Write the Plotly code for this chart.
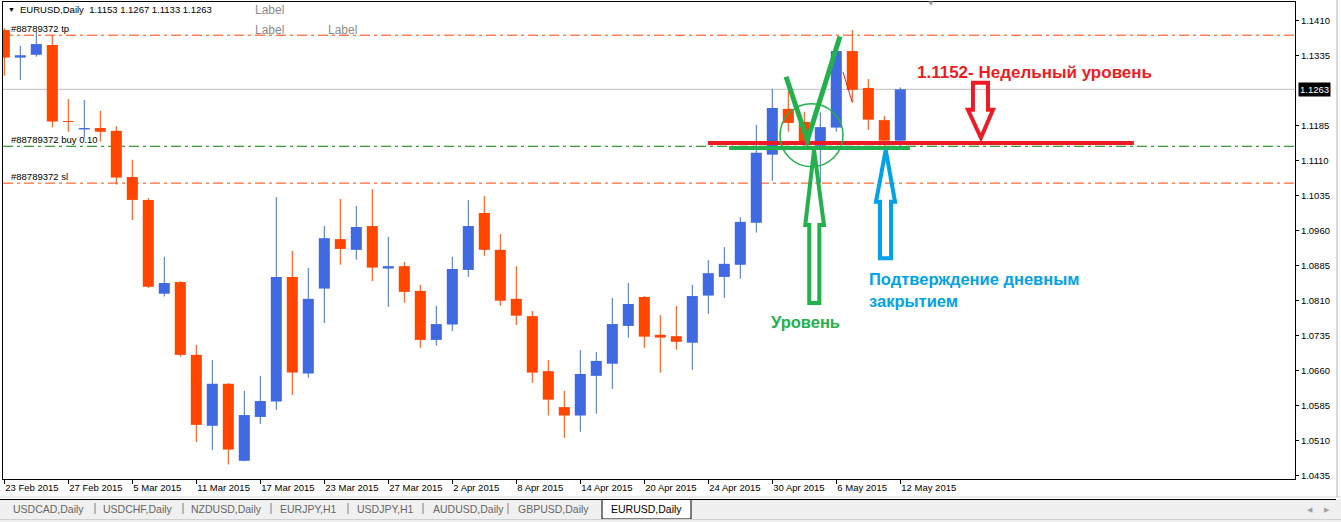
import plotly.graph_objects as go

# ---------------- data ----------------
symbol = "EURUSD,Daily"
opens = [1.1390, 1.1331, 1.1337, 1.1358, 1.1195, 1.1177, 1.1180, 1.1174, 1.1075, 1.1026,
         1.0825, 1.0850, 1.0694, 1.0542, 1.0632, 1.0467, 1.0561, 1.0594, 1.0861, 1.0654,
         1.0836, 1.0942, 1.0919, 1.0970, 1.0879, 1.0884, 1.0831, 1.0726, 1.0759, 1.0876,
         1.0998, 1.0919, 1.0814, 1.0777, 1.0659, 1.0582, 1.0564, 1.0649, 1.0675, 1.0756,
         1.0818, 1.0737, 1.0734, 1.0720, 1.0821, 1.0861, 1.0887, 1.0977, 1.1123, 1.1221,
         1.1193, 1.1142, 1.1181, 1.1345, 1.1266, 1.1197, 1.1153]
highs = [1.1394, 1.1356, 1.1386, 1.1379, 1.1242, 1.1240, 1.1217, 1.1184, 1.1112, 1.1030,
         1.0904, 1.0852, 1.0715, 1.0683, 1.0633, 1.0617, 1.0649, 1.1032, 1.0917, 1.0880,
         1.0970, 1.1028, 1.1013, 1.1049, 1.0947, 1.0893, 1.0844, 1.0799, 1.0904, 1.1026,
         1.1034, 1.0953, 1.0884, 1.0788, 1.0683, 1.0617, 1.0704, 1.0700, 1.0816, 1.0848,
         1.0820, 1.0779, 1.0799, 1.0844, 1.0897, 1.0925, 1.0989, 1.1187, 1.1264, 1.1261,
         1.1215, 1.1214, 1.1362, 1.1390, 1.1285, 1.1206, 1.1267]
lows = [1.1292, 1.1283, 1.1333, 1.1181, 1.1172, 1.1159, 1.1151, 1.1059, 1.0983, 1.0837,
        1.0819, 1.0690, 1.0507, 1.0490, 1.0459, 1.0466, 1.0546, 1.0576, 1.0608, 1.0645,
        1.0762, 1.0887, 1.0898, 1.0852, 1.0797, 1.0806, 1.0709, 1.0714, 1.0745, 1.0861,
        1.0906, 1.0799, 1.0758, 1.0634, 1.0564, 1.0516, 1.0529, 1.0568, 1.0621, 1.0731,
        1.0709, 1.0656, 1.0705, 1.0662, 1.0782, 1.0816, 1.0857, 1.0956, 1.1067, 1.1172,
        1.1142, 1.1062, 1.1172, 1.1234, 1.1176, 1.1140, 1.1133]
closes = [1.1331, 1.1336, 1.1360, 1.1194, 1.1193, 1.1180, 1.1172, 1.1074, 1.1026, 1.0840,
          1.0848, 1.0694, 1.0544, 1.0632, 1.0491, 1.0565, 1.0595, 1.0861, 1.0656, 1.0814,
          1.0944, 1.0921, 1.0968, 1.0881, 1.0884, 1.0829, 1.0726, 1.0760, 1.0878, 1.0970,
          1.0919, 1.0810, 1.0778, 1.0656, 1.0598, 1.0564, 1.0653, 1.0681, 1.0760, 1.0803,
          1.0733, 1.0731, 1.0722, 1.0820, 1.0869, 1.0889, 1.0979, 1.1127, 1.1223, 1.1191,
          1.1151, 1.1182, 1.1345, 1.1262, 1.1198, 1.1153, 1.1263]

date_tick_index = [0, 4, 8, 12, 16, 20, 24, 28, 32, 36, 40, 44, 48, 52, 56]
date_tick_labels = ["23 Feb 2015", "27 Feb 2015", "5 Mar 2015", "11 Mar 2015", "17 Mar 2015",
                    "23 Mar 2015", "27 Mar 2015", "2 Apr 2015", "8 Apr 2015", "14 Apr 2015",
                    "20 Apr 2015", "24 Apr 2015", "30 Apr 2015", "6 May 2015", "12 May 2015"]
price_ticks = [1.0435, 1.0510, 1.0585, 1.0660, 1.0735, 1.0810, 1.0885, 1.0960,
               1.1035, 1.1110, 1.1185, 1.1335, 1.1410]

order_id = "#88789372"
tp_price = 1.1379
buy_price = 1.1141
sl_price = 1.1062
weekly_level = 1.1148      # drawn red level line
daily_level = 1.1137       # drawn green level line

tabs = ["USDCAD,Daily", "USDCHF,Daily", "NZDUSD,Daily", "EURJPY,H1", "USDJPY,H1",
        "AUDUSD,Daily", "GBPUSD,Daily", "EURUSD,Daily"]

# ---------------- styling ----------------
BULL = "#4169E1"
BEAR = "#FF4500"
PAINT_RED = "#ED1C24"
PAINT_GREEN = "#22B14C"
PAINT_BLUE = "#00A2E8"
FONT = "Liberation Sans, Arial, sans-serif"
W, H = 1341, 522
ML, MR, MT, MB = 3, 46, 2, 43
PW, PH = W - ML - MR, H - MT - MB


def pxx(X):
    return (X - ML) / PW


def pxy(Y):
    return (H - MB - Y) / PH


n = len(opens)
idx = list(range(n))
last_close = closes[-1]

fig = go.Figure()

# wicks
for bull, col in [(True, BULL), (False, BEAR)]:
    xs, ys = [], []
    for i in idx:
        if (closes[i] >= opens[i]) == bull:
            xs += [i, i, None]
            ys += [lows[i], highs[i], None]
    fig.add_trace(go.Scatter(x=xs, y=ys, mode="lines", line=dict(color=col, width=1),
                             hoverinfo="skip", showlegend=False))

# bodies
bases = [min(o, c) for o, c in zip(opens, closes)]
heights = [max(abs(c - o), 0.00015) for o, c in zip(opens, closes)]
colors = [BULL if c >= o else BEAR for o, c in zip(opens, closes)]
fig.add_trace(go.Bar(x=idx, y=heights, base=bases, width=0.69,
                     marker=dict(color=colors, line=dict(width=0)),
                     hoverinfo="skip", showlegend=False))

shapes = []
DASH = "10px,4px,3px,4px"
# price / order lines
shapes.append(dict(type="line", xref="paper", x0=0, x1=1, yref="y", y0=last_close, y1=last_close,
                   line=dict(color="#C0C0C0", width=1), layer="below"))
for p, c in [(tp_price, BEAR), (buy_price, "#008000"), (sl_price, BEAR)]:
    shapes.append(dict(type="line", xref="paper", x0=0, x1=1, yref="y", y0=p, y1=p,
                       line=dict(color=c, width=1, dash=DASH), layer="below"))

# hand drawings
shapes.append(dict(type="line", xref="x", yref="y", x0=45.3, x1=56.6, y0=daily_level, y1=daily_level,
                   line=dict(color=PAINT_GREEN, width=4)))
shapes.append(dict(type="line", xref="x", yref="y", x0=43.98, x1=70.6, y0=weekly_level, y1=weekly_level,
                   line=dict(color=PAINT_RED, width=4)))
shapes.append(dict(type="path", xref="x", yref="y",
                   path="M 48.86,1.1290 L 50.19,1.1154 L 52.23,1.1376",
                   line=dict(color=PAINT_GREEN, width=5)))
shapes.append(dict(type="circle", xref="x", yref="y", x0=48.48, x1=52.42, y0=1.1097, y1=1.1232,
                   line=dict(color=PAINT_GREEN, width=1.5)))
shapes.append(dict(type="path", xref="x", yref="y",
                   path="M 50.61,1.1133 L 51.23,1.0972 L 50.94,1.0972 L 50.94,1.0805 L 50.31,1.0805 "
                        "L 50.31,1.0972 L 50.06,1.0972 Z",
                   line=dict(color=PAINT_GREEN, width=4)))
shapes.append(dict(type="path", xref="x", yref="y",
                   path="M 55.09,1.1133 L 55.67,1.1022 L 55.42,1.1022 L 55.42,1.0901 L 54.73,1.0901 "
                        "L 54.73,1.1022 L 54.48,1.1022 Z",
                   line=dict(color=PAINT_BLUE, width=4)))
shapes.append(dict(type="path", xref="x", yref="y",
                   path="M 60.54,1.1277 L 61.48,1.1277 L 61.48,1.1219 L 61.79,1.1219 L 61.04,1.1159 "
                        "L 60.23,1.1219 L 60.54,1.1219 Z",
                   line=dict(color=PAINT_RED, width=4)))
shapes.append(dict(type="line", xref="x", yref="y", x0=52.42, x1=52.99, y0=1.1300, y1=1.1236,
                   line=dict(color=PAINT_RED, width=1)))

# tab bar / window chrome (paper coordinates)
shapes.append(dict(type="rect", xref="paper", yref="paper", x0=pxx(0), x1=pxx(W), y0=pxy(H), y1=pxy(499),
                   fillcolor="#F0F0F0", line=dict(width=0), layer="below"))
shapes.append(dict(type="line", xref="paper", yref="paper", x0=pxx(0), x1=pxx(W), y0=pxy(497), y1=pxy(497),
                   line=dict(color="#D8D8D8", width=1)))
shapes.append(dict(type="line", xref="paper", yref="paper", x0=pxx(0), x1=pxx(602), y0=pxy(499.5), y1=pxy(499.5),
                   line=dict(color="#000000", width=1)))
shapes.append(dict(type="line", xref="paper", yref="paper", x0=pxx(691), x1=pxx(1336), y0=pxy(499.5), y1=pxy(499.5),
                   line=dict(color="#000000", width=1)))
shapes.append(dict(type="rect", xref="paper", yref="paper", x0=pxx(602), x1=pxx(691), y0=pxy(519), y1=pxy(499.5),
                   fillcolor="#FFFFFF", line=dict(color="#000000", width=1)))
shapes.append(dict(type="line", xref="paper", yref="paper", x0=pxx(0), x1=pxx(W), y0=pxy(519.5), y1=pxy(519.5),
                   line=dict(color="#D0D0D0", width=1)))
for sx in [95, 183, 271, 348, 423, 508]:
    shapes.append(dict(type="line", xref="paper", yref="paper", x0=pxx(sx), x1=pxx(sx), y0=pxy(514), y1=pxy(503),
                       line=dict(color="#808080", width=1)))
shapes.append(dict(type="line", xref="paper", yref="paper", x0=pxx(1337), x1=pxx(1337), y0=pxy(497), y1=pxy(0),
                   line=dict(color="#B0B0B0", width=1)))

annotations = []
small = dict(family=FONT, size=9.5, color="#000000")
# header
annotations.append(dict(xref="paper", yref="paper", x=pxx(6), y=pxy(10), xanchor="left", yanchor="middle",
                        text="▼", showarrow=False, font=dict(family=FONT, size=7, color="#000000")))
hdr = "%s\u00a0\u00a0%.4f %.4f %.4f %.4f" % (symbol, opens[-1], highs[-1], lows[-1], closes[-1])
annotations.append(dict(xref="paper", yref="paper", x=pxx(18), y=pxy(10), xanchor="left", yanchor="middle",
                        text=hdr, showarrow=False, font=small))
# gray "Label" objects
for lx, ly in [(253, 10), (253, 30), (326, 30)]:
    annotations.append(dict(xref="paper", yref="paper", x=pxx(lx), y=pxy(ly), xanchor="left", yanchor="middle",
                            text="Label", showarrow=False, font=dict(family=FONT, size=12, color="#8C8C8C")))
# chart-shift marker
annotations.append(dict(xref="paper", yref="paper", x=pxx(931), y=pxy(4), xanchor="center", yanchor="middle",
                        text="▼", showarrow=False, font=dict(family=FONT, size=8, color="#A0A0A0")))
# order labels
for p, t in [(tp_price, "tp"), (buy_price, "buy 0.10"), (sl_price, "sl")]:
    annotations.append(dict(xref="paper", yref="y", x=pxx(10), y=p, xanchor="left", yanchor="bottom",
                            text="%s %s" % (order_id, t), showarrow=False, font=small, borderpad=0))
# current price box on axis
annotations.append(dict(xref="paper", yref="y", x=pxx(1298), y=last_close, xanchor="left", yanchor="middle",
                        text="%.4f" % last_close, showarrow=False, bgcolor="#000000", borderpad=1,
                        font=dict(family=FONT, size=9.5, color="#FFFFFF")))
# hand-written texts
annotations.append(dict(xref="x", yref="y", x=56.92, y=1.1300, xanchor="left", yanchor="middle",
                        text="<b>%.4f- Недельный уровень</b>" % 1.1152, showarrow=False,
                        font=dict(family=FONT, size=17, color=PAINT_RED)))
annotations.append(dict(xref="x", yref="y", x=47.79, y=1.0764, xanchor="left", yanchor="middle",
                        text="<b>Уровень</b>", showarrow=False,
                        font=dict(family=FONT, size=16.5, color=PAINT_GREEN)))
annotations.append(dict(xref="x", yref="y", x=53.92, y=1.0857, xanchor="left", yanchor="middle",
                        text="<b>Подтверждение дневным</b>", showarrow=False,
                        font=dict(family=FONT, size=16.5, color=PAINT_BLUE)))
annotations.append(dict(xref="x", yref="y", x=53.92, y=1.0809, xanchor="left", yanchor="middle",
                        text="<b>закрытием</b>", showarrow=False,
                        font=dict(family=FONT, size=16.5, color=PAINT_BLUE)))
# tabs
tab_centers = [48, 138, 226, 308, 385, 468, 553, 646]
for t, cx in zip(tabs, tab_centers):
    annotations.append(dict(xref="paper", yref="paper", x=pxx(cx), y=pxy(509), xanchor="center", yanchor="middle",
                            text=t, showarrow=False,
                            font=dict(family=FONT, size=10.5, color="#000000" if t == symbol else "#666666")))
# scroll arrows
for ax_, t in [(1310, "◀"), (1327, "▶")]:
    annotations.append(dict(xref="paper", yref="paper", x=pxx(ax_), y=pxy(509), xanchor="center", yanchor="middle",
                            text=t, showarrow=False, font=dict(family=FONT, size=7, color="#A0A0A0")))

x_left = (ML - 4.3) / 16.0
x_right = (W - MR - 4.3) / 16.0
y_top = 1.14544 - 0.00021429 * MT
y_bot = 1.14544 - 0.00021429 * (H - MB)

fig.update_layout(
    width=W, height=H,
    margin=dict(l=ML, r=MR, t=MT, b=MB, pad=0),
    paper_bgcolor="#FFFFFF", plot_bgcolor="#FFFFFF",
    showlegend=False, hovermode=False, barmode="overlay",
    shapes=shapes, annotations=annotations,
    xaxis=dict(range=[x_left, x_right], showgrid=False, zeroline=False,
               tickvals=date_tick_index, ticktext=date_tick_labels,
               ticks="outside", ticklen=4, tickcolor="#000000",
               ticklabelposition="outside right",
               tickfont=dict(family=FONT, size=9.5, color="#000000"),
               showline=True, linecolor="#000000", linewidth=1, mirror=True, fixedrange=True),
    yaxis=dict(range=[y_bot, y_top], side="right", showgrid=False, zeroline=False,
               tickvals=price_ticks, ticktext=["%.4f" % v for v in price_ticks],
               ticks="outside", ticklen=3, tickcolor="#000000",
               tickfont=dict(family=FONT, size=9.5, color="#000000"),
               showline=True, linecolor="#000000", linewidth=1, mirror=True, fixedrange=True),
)

fig.write_html("out.html", config={"displayModeBar": False, "staticPlot": True})
